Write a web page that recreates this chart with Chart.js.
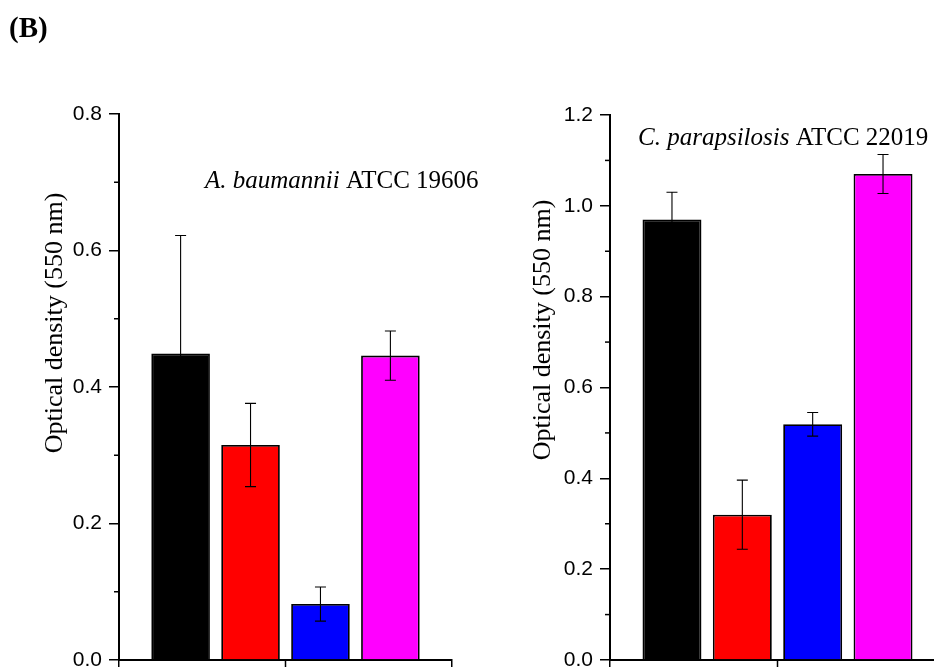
<!DOCTYPE html>
<html><head><meta charset="utf-8">
<script src="https://cdn.jsdelivr.net/npm/chart.js@4.4.1/dist/chart.umd.min.js"></script>
<style>
html,body{margin:0;padding:0;background:#fff;overflow:hidden;width:934px;height:667px;}
#wrap{position:relative;width:934px;height:667px;overflow:hidden;background:#fff;}
canvas{position:absolute;top:0;}
</style></head>
<body><div id="wrap">
<canvas id="left" width="490" height="667" style="left:0px"></canvas>
<canvas id="right" width="465" height="667" style="left:490px"></canvas>
</div>
<script>
// ---- data ----
const categories = [''];
const seriesNames = ['Series 1', 'Series 2', 'Series 3', 'Series 4'];
const seriesColors = ['#000000', '#ff0000', '#0000ff', '#ff00ff'];
const aBaumMeans = [0.449, 0.315, 0.082, 0.446];
const aBaumErrors = [0.173, 0.061, 0.025, 0.036];
const cParaMeans = [0.970, 0.320, 0.519, 1.070];
const cParaErrors = [0.060, 0.076, 0.026, 0.043];
const aBaumTicks = [0.0, 0.2, 0.4, 0.6, 0.8];
const cParaTicks = [0.0, 0.2, 0.4, 0.6, 0.8, 1.0, 1.2];
const yTitle = 'Optical density (550 nm)';
const panelLabel = '(B)';

const decor = {
  id: 'decor',
  afterDatasetsDraw(chart, args, opts) {
    const ctx = chart.ctx, ys = chart.scales.y;
    ctx.save();
    ctx.strokeStyle = '#000';
    ctx.lineWidth = 1.1;
    opts.means.forEach((m, i) => {
      const bar = chart.getDatasetMeta(i).data[0];
      const e = opts.errors[i];
      const x = bar.x;
      const yt = ys.getPixelForValue(m + e);
      const yb = ys.getPixelForValue(Math.max(0, m - e));
      ctx.beginPath();
      ctx.moveTo(x, yt); ctx.lineTo(x, yb);
      ctx.moveTo(x - 5.5, yt); ctx.lineTo(x + 5.5, yt);
      ctx.moveTo(x - 5.5, yb); ctx.lineTo(x + 5.5, yb);
      ctx.stroke();
    });
    ctx.restore();
  },
  afterDraw(chart, args, opts) {
    const ctx = chart.ctx, ys = chart.scales.y, xs = chart.scales.x;
    ctx.save();
    ctx.strokeStyle = '#000';
    ctx.lineWidth = 1.5;
    // minor ticks
    const t = ys.ticks;
    for (let i = 0; i < t.length - 1; i++) {
      const yy = ys.getPixelForValue((t[i].value + t[i + 1].value) / 2);
      ctx.beginPath(); ctx.moveTo(ys.right - 5, yy); ctx.lineTo(ys.right, yy); ctx.stroke();
    }
    // center x tick
    const xc = xs.getPixelForValue(0);
    ctx.beginPath(); ctx.moveTo(xc, xs.top); ctx.lineTo(xc, xs.top + 8); ctx.stroke();
    // y title
    ctx.fillStyle = '#000';
    ctx.save();
    ctx.translate(opts.titleX, opts.titleY);
    ctx.rotate(-Math.PI / 2);
    ctx.font = '26px "Liberation Serif"';
    ctx.textAlign = 'center';
    ctx.textBaseline = 'middle';
    ctx.fillText(yTitle, 0, 0);
    ctx.restore();
    // annotation
    let ax = opts.annX;
    ctx.textBaseline = 'alphabetic';
    ctx.textAlign = 'left';
    opts.annParts.forEach(p => {
      ctx.font = (p.italic ? 'italic ' : '') + '25px "Liberation Serif"';
      ctx.fillText(p.t, ax, opts.annY);
      ax += ctx.measureText(p.t).width;
    });
    if (opts.panel) {
      ctx.font = 'bold 29px "Liberation Serif"';
      ctx.fillText(opts.panel, 9, 37);
    }
    ctx.restore();
  }
};

function makeChart(id, means, errors, ticks, axisW, top, rightPad, decorOpts) {
  const datasets = seriesNames.map((n, i) => ({
    label: n,
    data: [means[i]],
    backgroundColor: seriesColors[i],
    borderColor: '#000',
    borderWidth: 1.8,
    categoryPercentage: 0.84,
    barPercentage: 0.838
  }));
  const maxV = ticks[ticks.length - 1];
  return new Chart(document.getElementById(id), {
    type: 'bar',
    data: { labels: categories, datasets },
    options: {
      responsive: false,
      animation: false,
      layout: { padding: { left: 0, right: rightPad, top: top, bottom: 0 } },
      plugins: { legend: { display: false }, tooltip: { enabled: false }, decor: decorOpts },
      scales: {
        x: {
          offset: true,
          grid: { display: true, offset: true, drawOnChartArea: false, drawTicks: true, tickLength: 8, color: '#000', lineWidth: 1.5 },
          border: { display: true, color: '#000', width: 2 },
          ticks: { display: false },
          afterFit(s) { s.height = 7; }
        },
        y: {
          min: 0, max: maxV,
          afterBuildTicks(s) { s.ticks = ticks.map(v => ({ value: v })); },
          grid: { display: true, drawOnChartArea: false, drawTicks: true, tickLength: 10, color: '#000', lineWidth: 1.5 },
          border: { display: true, color: '#000', width: 2 },
          ticks: {
            padding: 7, color: '#000',
            font: { family: '"Liberation Sans", Arial, sans-serif', size: 21 },
            callback: v => Number(v).toFixed(1)
          },
          afterFit(s) { s.width = axisW; s.paddingTop = 0; s.paddingBottom = 0; }
        }
      }
    },
    plugins: [decor]
  });
}

makeChart('left', aBaumMeans, aBaumErrors, aBaumTicks, 119, 114, 38, {
  means: aBaumMeans, errors: aBaumErrors, titleX: 55, titleY: 323,
  annX: 205, annY: 188,
  annParts: [{ t: 'A. baumannii', italic: true }, { t: ' ATCC 19606' }],
  panel: panelLabel
});
makeChart('right', cParaMeans, cParaErrors, cParaTicks, 120, 115, 10, {
  means: cParaMeans, errors: cParaErrors, titleX: 53, titleY: 330,
  annX: 148, annY: 145,
  annParts: [{ t: 'C. parapsilosis', italic: true }, { t: ' ATCC 22019' }],
  panel: null
});
</script>
</body></html>
